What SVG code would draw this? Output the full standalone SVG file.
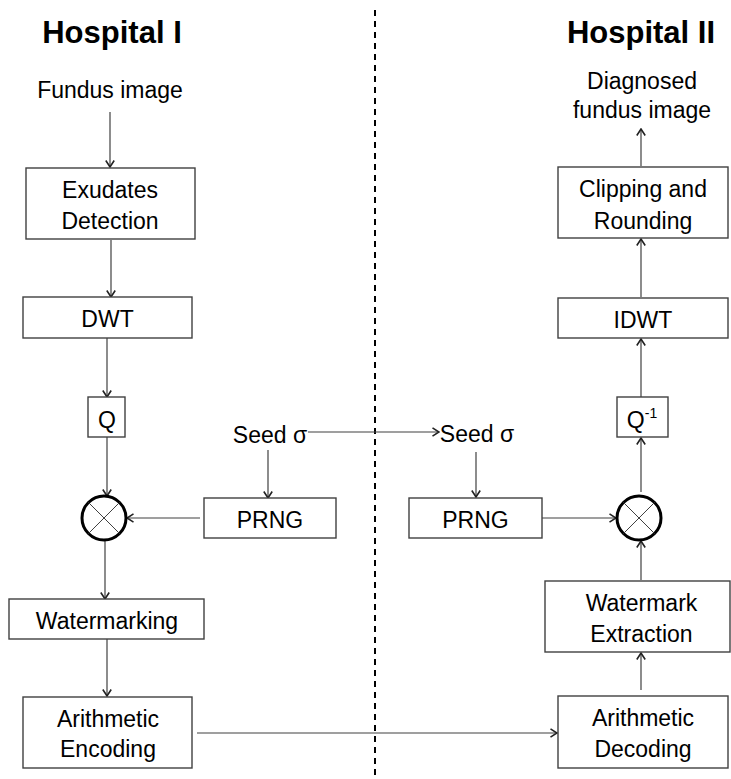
<svg xmlns="http://www.w3.org/2000/svg" width="731" height="779" viewBox="0 0 731 779">
<defs>
<marker id="arr" viewBox="0 0 10 10" refX="9" refY="5" markerWidth="10" markerHeight="10" orient="auto" markerUnits="userSpaceOnUse">
<path d="M2.5,0.8 L9,5 L2.5,9.2" fill="none" stroke="#222" stroke-width="1.6"/>
</marker>
<style>
text{font-family:"Liberation Sans",Arial,sans-serif;font-size:23px;fill:#000;text-anchor:middle}
.title{font-size:31px;font-weight:bold}
.box{fill:#fff;stroke:#404040;stroke-width:1.4}
.op{fill:#fff;stroke:#000;stroke-width:3}
.x{stroke:#404040;stroke-width:1}
.conn line{stroke:#404040;stroke-width:1.2;marker-end:url(#arr)}
.div{stroke:#000;stroke-width:2;stroke-dasharray:6 5}
</style>
</defs>
<rect width="731" height="779" fill="#fff"/>
<line class="div" x1="375" y1="10" x2="375" y2="776"/>
<text class="title" x="112" y="43">Hospital I</text>
<text class="title" x="641" y="43">Hospital II</text>

<g class="conn" id="connectors">
<line x1="110" y1="112" x2="110" y2="167"/>
<line x1="111" y1="240" x2="111" y2="297"/>
<line x1="107" y1="338" x2="107" y2="397"/>
<line x1="107" y1="437" x2="107" y2="496"/>
<line x1="200" y1="518" x2="127" y2="518"/>
<line x1="268" y1="450" x2="268" y2="498"/>
<line x1="105" y1="541" x2="105" y2="599"/>
<line x1="107" y1="639" x2="107" y2="696"/>
<line x1="197" y1="733" x2="557" y2="733"/>
<line x1="308" y1="432" x2="439" y2="432"/>
<line x1="476" y1="452" x2="476" y2="497"/>
<line x1="542" y1="518" x2="616" y2="518"/>
<line x1="641" y1="580" x2="641" y2="541"/>
<line x1="641" y1="690" x2="641" y2="653"/>
<line x1="641" y1="492" x2="641" y2="438"/>
<line x1="641" y1="397" x2="641" y2="339"/>
<line x1="641" y1="297" x2="641" y2="239"/>
<line x1="641" y1="166" x2="641" y2="129"/>
</g>

<g id="fundus-image"><text x="110" y="98">Fundus image</text></g>
<g id="exudates"><rect class="box" x="26" y="168" width="169" height="71"/><text x="110" y="198">Exudates</text><text x="110" y="229">Detection</text></g>
<g id="dwt"><rect class="box" x="23" y="297" width="169" height="41"/><text x="107.5" y="327">DWT</text></g>
<g id="q"><rect class="box" x="88" y="397" width="37" height="40"/><text x="107" y="428">Q</text></g>
<g id="mult-left"><circle class="op" cx="104" cy="518" r="22"/><line class="x" x1="88.4" y1="502.4" x2="119.6" y2="533.6"/><line class="x" x1="119.6" y1="502.4" x2="88.4" y2="533.6"/></g>
<g id="seed-left"><text x="270" y="443">Seed σ</text></g>
<g id="prng-left"><rect class="box" x="204" y="498" width="132" height="40"/><text x="270" y="528">PRNG</text></g>
<g id="watermarking"><rect class="box" x="9" y="599" width="195" height="40"/><text x="107" y="629">Watermarking</text></g>
<g id="arith-enc"><rect class="box" x="23" y="697" width="169" height="71"/><text x="108" y="727">Arithmetic</text><text x="108" y="757">Encoding</text></g>

<g id="diagnosed"><text x="642" y="89">Diagnosed</text><text x="642" y="118">fundus image</text></g>
<g id="clipping"><rect class="box" x="558" y="167" width="170" height="71"/><text x="643" y="197">Clipping and</text><text x="643" y="229">Rounding</text></g>
<g id="idwt"><rect class="box" x="558" y="298" width="170" height="40"/><text x="643" y="328">IDWT</text></g>
<g id="qinv"><rect class="box" x="617" y="397" width="51" height="40"/><text x="642" y="428">Q<tspan font-size="14" dy="-10">-1</tspan></text></g>
<g id="seed-right"><text x="477" y="442">Seed σ</text></g>
<g id="prng-right"><rect class="box" x="409" y="498" width="133" height="40"/><text x="475.5" y="528">PRNG</text></g>
<g id="mult-right"><circle class="op" cx="639" cy="518" r="22"/><line class="x" x1="623.4" y1="502.4" x2="654.6" y2="533.6"/><line class="x" x1="654.6" y1="502.4" x2="623.4" y2="533.6"/></g>
<g id="wm-extract"><rect class="box" x="545" y="581" width="185" height="71"/><text x="641.5" y="611">Watermark</text><text x="641.5" y="642">Extraction</text></g>
<g id="arith-dec"><rect class="box" x="558" y="696" width="170" height="72"/><text x="643" y="726">Arithmetic</text><text x="643" y="757">Decoding</text></g>
</svg>
